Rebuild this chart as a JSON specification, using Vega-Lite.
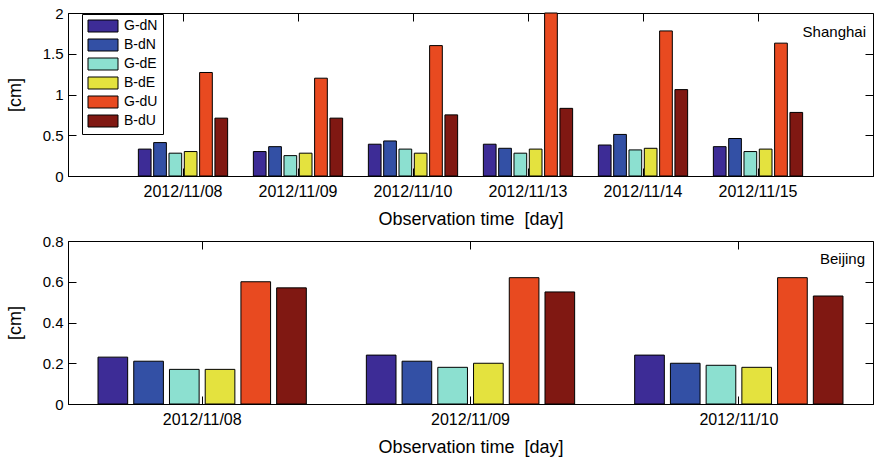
{
  "$schema": "https://vega.github.io/schema/vega-lite/v6.json",
  "padding": {"left": 5, "right": 4, "top": 5, "bottom": 0},
  "spacing": 4,
  "config": {
    "font": "Liberation Sans",
    "view": {"stroke": "black", "strokeWidth": 1},
    "axis": {
      "domainColor": "black", "tickColor": "black", "labelColor": "black", "titleColor": "black",
      "labelFont": "Liberation Sans", "titleFont": "Liberation Sans",
      "labelFontSize": 15, "titleFontSize": 18, "titleFontWeight": "normal",
      "grid": false, "tickSize": -8, "domainWidth": 1, "tickWidth": 1
    },
    "axisX": {"labelPadding": 15, "titlePadding": 11, "labelAngle": 0, "labelFontSize": 16},
    "axisY": {"labelPadding": 13, "titlePadding": 18}
  },
  "datasets": {
    "shanghai": [
      {"date": "2012/11/08", "series": "G-dN", "value": 0.33},
      {"date": "2012/11/08", "series": "B-dN", "value": 0.41},
      {"date": "2012/11/08", "series": "G-dE", "value": 0.28},
      {"date": "2012/11/08", "series": "B-dE", "value": 0.30},
      {"date": "2012/11/08", "series": "G-dU", "value": 1.27},
      {"date": "2012/11/08", "series": "B-dU", "value": 0.71},
      {"date": "2012/11/09", "series": "G-dN", "value": 0.30},
      {"date": "2012/11/09", "series": "B-dN", "value": 0.36},
      {"date": "2012/11/09", "series": "G-dE", "value": 0.25},
      {"date": "2012/11/09", "series": "B-dE", "value": 0.28},
      {"date": "2012/11/09", "series": "G-dU", "value": 1.20},
      {"date": "2012/11/09", "series": "B-dU", "value": 0.71},
      {"date": "2012/11/10", "series": "G-dN", "value": 0.39},
      {"date": "2012/11/10", "series": "B-dN", "value": 0.43},
      {"date": "2012/11/10", "series": "G-dE", "value": 0.33},
      {"date": "2012/11/10", "series": "B-dE", "value": 0.28},
      {"date": "2012/11/10", "series": "G-dU", "value": 1.60},
      {"date": "2012/11/10", "series": "B-dU", "value": 0.75},
      {"date": "2012/11/13", "series": "G-dN", "value": 0.39},
      {"date": "2012/11/13", "series": "B-dN", "value": 0.34},
      {"date": "2012/11/13", "series": "G-dE", "value": 0.28},
      {"date": "2012/11/13", "series": "B-dE", "value": 0.33},
      {"date": "2012/11/13", "series": "G-dU", "value": 2.00},
      {"date": "2012/11/13", "series": "B-dU", "value": 0.83},
      {"date": "2012/11/14", "series": "G-dN", "value": 0.38},
      {"date": "2012/11/14", "series": "B-dN", "value": 0.51},
      {"date": "2012/11/14", "series": "G-dE", "value": 0.32},
      {"date": "2012/11/14", "series": "B-dE", "value": 0.34},
      {"date": "2012/11/14", "series": "G-dU", "value": 1.78},
      {"date": "2012/11/14", "series": "B-dU", "value": 1.06},
      {"date": "2012/11/15", "series": "G-dN", "value": 0.36},
      {"date": "2012/11/15", "series": "B-dN", "value": 0.46},
      {"date": "2012/11/15", "series": "G-dE", "value": 0.30},
      {"date": "2012/11/15", "series": "B-dE", "value": 0.33},
      {"date": "2012/11/15", "series": "G-dU", "value": 1.63},
      {"date": "2012/11/15", "series": "B-dU", "value": 0.78}
    ],
    "beijing": [
      {"date": "2012/11/08", "series": "G-dN", "value": 0.23},
      {"date": "2012/11/08", "series": "B-dN", "value": 0.21},
      {"date": "2012/11/08", "series": "G-dE", "value": 0.17},
      {"date": "2012/11/08", "series": "B-dE", "value": 0.17},
      {"date": "2012/11/08", "series": "G-dU", "value": 0.60},
      {"date": "2012/11/08", "series": "B-dU", "value": 0.57},
      {"date": "2012/11/09", "series": "G-dN", "value": 0.24},
      {"date": "2012/11/09", "series": "B-dN", "value": 0.21},
      {"date": "2012/11/09", "series": "G-dE", "value": 0.18},
      {"date": "2012/11/09", "series": "B-dE", "value": 0.20},
      {"date": "2012/11/09", "series": "G-dU", "value": 0.62},
      {"date": "2012/11/09", "series": "B-dU", "value": 0.55},
      {"date": "2012/11/10", "series": "G-dN", "value": 0.24},
      {"date": "2012/11/10", "series": "B-dN", "value": 0.20},
      {"date": "2012/11/10", "series": "G-dE", "value": 0.19},
      {"date": "2012/11/10", "series": "B-dE", "value": 0.18},
      {"date": "2012/11/10", "series": "G-dU", "value": 0.62},
      {"date": "2012/11/10", "series": "B-dU", "value": 0.53}
    ]
  },
  "resolve": {"legend": {"color": "independent"}, "scale": {"x": "independent", "xOffset": "independent", "y": "independent"}},
  "vconcat": [
    {
      "width": 805, "height": 163,
      "layer": [
        {
          "data": {"name": "shanghai"},
          "mark": {"type": "bar", "stroke": "black", "strokeWidth": 1},
          "encoding": {
            "x": {"field": "date", "type": "nominal", "sort": null, "scale": {"paddingInner": 0, "paddingOuter": 0.5}, "axis": {"title": "Observation time\u00a0\u00a0[day]"}},
            "xOffset": {"field": "series", "type": "nominal", "sort": ["G-dN", "B-dN", "G-dE", "B-dE", "G-dU", "B-dU"], "scale": {"paddingInner": 0.17, "paddingOuter": 0.84}},
            "y": {"field": "value", "type": "quantitative", "scale": {"domain": [0, 2], "nice": false}, "axis": {"title": "[cm]", "values": [0, 0.5, 1, 1.5, 2], "format": "~g"}},
            "color": {
              "field": "series", "type": "nominal",
              "scale": {"domain": ["G-dN", "B-dN", "G-dE", "B-dE", "G-dU", "B-dU"], "range": ["#3d2c96", "#3350a5", "#8ce0d0", "#e4e23e", "#e84a20", "#801812"]},
              "legend": {
                "orient": "none", "legendX": 14, "legendY": 1, "title": null,
                "symbolType": "M-2.5,-1H2.5V1H-2.5Z", "symbolSize": 144,
                "symbolStrokeColor": "black", "symbolStrokeWidth": 1, "symbolOpacity": 1,
                "symbolOffset": 9,
                "labelFontSize": 14, "labelFont": "Liberation Sans", "labelColor": "black", "labelOffset": 14,
                "rowPadding": 3, "padding": 5, "strokeColor": "black", "fillColor": "white"
              }
            }
          }
        },
        {
          "data": {"name": "shanghai"},
          "mark": {"type": "tick", "opacity": 0, "clip": true},
          "encoding": {
            "x": {"field": "date", "type": "nominal", "sort": null, "axis": {"orient": "top", "labels": false, "title": null, "domain": false}},
            "y": {"field": "value", "type": "quantitative", "stack": null, "axis": {"orient": "right", "labels": false, "title": null, "domain": false, "values": [0, 0.5, 1, 1.5, 2]}}
          }
        },
        {
          "data": {"values": [{"label": "Shanghai", "top": 2}]},
          "mark": {"type": "text", "align": "right", "baseline": "alphabetic", "dx": -7, "dy": 24, "fontSize": 15, "font": "Liberation Sans", "color": "black"},
          "encoding": {
            "text": {"field": "label"},
            "x": {"value": "width"},
            "y": {"field": "top", "type": "quantitative", "axis": null}
          }
        }
      ],
      "resolve": {"axis": {"x": "independent", "y": "independent"}}
    },
    {
      "width": 805, "height": 163,
      "layer": [
        {
          "data": {"name": "beijing"},
          "mark": {"type": "bar", "stroke": "black", "strokeWidth": 1},
          "encoding": {
            "x": {"field": "date", "type": "nominal", "sort": null, "scale": {"paddingInner": 0, "paddingOuter": 0}, "axis": {"title": "Observation time\u00a0\u00a0[day]"}},
            "xOffset": {"field": "series", "type": "nominal", "sort": ["G-dN", "B-dN", "G-dE", "B-dE", "G-dU", "B-dU"], "scale": {"paddingInner": 0.17, "paddingOuter": 0.84}},
            "y": {"field": "value", "type": "quantitative", "scale": {"domain": [0, 0.8], "nice": false}, "axis": {"title": "[cm]", "values": [0, 0.2, 0.4, 0.6, 0.8], "format": "~g"}},
            "color": {
              "field": "series", "type": "nominal",
              "scale": {"domain": ["G-dN", "B-dN", "G-dE", "B-dE", "G-dU", "B-dU"], "range": ["#3d2c96", "#3350a5", "#8ce0d0", "#e4e23e", "#e84a20", "#801812"]},
              "legend": null
            }
          }
        },
        {
          "data": {"name": "beijing"},
          "mark": {"type": "tick", "opacity": 0, "clip": true},
          "encoding": {
            "x": {"field": "date", "type": "nominal", "sort": null, "axis": {"orient": "top", "labels": false, "title": null, "domain": false}},
            "y": {"field": "value", "type": "quantitative", "stack": null, "axis": {"orient": "right", "labels": false, "title": null, "domain": false, "values": [0, 0.2, 0.4, 0.6, 0.8]}}
          }
        },
        {
          "data": {"values": [{"label": "Beijing", "top": 0.8}]},
          "mark": {"type": "text", "align": "right", "baseline": "alphabetic", "dx": -8, "dy": 23, "fontSize": 15, "font": "Liberation Sans", "color": "black"},
          "encoding": {
            "text": {"field": "label"},
            "x": {"value": "width"},
            "y": {"field": "top", "type": "quantitative", "axis": null}
          }
        }
      ],
      "resolve": {"axis": {"x": "independent", "y": "independent"}}
    }
  ]
}
